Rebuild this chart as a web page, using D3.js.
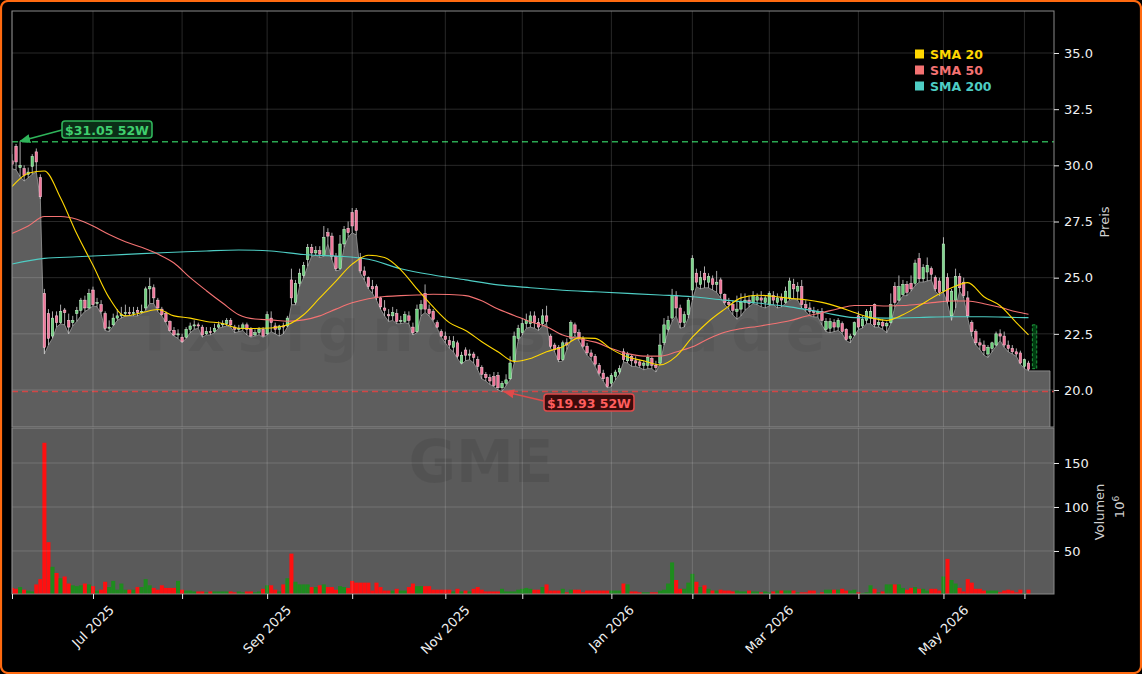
<!DOCTYPE html>
<html><head><meta charset="utf-8">
<script src="https://cdn.jsdelivr.net/npm/d3@7"></script>
<style>
html,body{margin:0;padding:0;background:#000;}
svg{display:block;font-family:"DejaVu Sans",sans-serif;}
</style></head><body>
<svg id="chart" width="1142" height="674"></svg>
<script>
// ---------------- DATA (GME, daily, trading-day index) ----------------
const openP = [
30.2,30.85,29.9,29.85,29.6,29.95,30.6,29.45,24.3,23.4,
22.4,23.3,23.0,23.56,23.1,23.0,23.4,23.55,24.0,23.65,
24.45,23.85,23.8,23.4,22.75,22.9,23.2,23.3,23.4,23.45,
23.4,23.55,23.45,23.65,24.5,24.55,24.0,23.6,23.4,23.05,
22.65,22.45,22.35,22.35,22.7,22.85,22.9,22.8,22.5,22.6,
22.6,22.8,22.9,22.95,23.1,22.8,22.7,22.75,22.9,22.7,
22.45,22.55,22.7,22.5,23.2,22.85,22.7,22.85,22.85,24.9,
23.9,24.75,25.1,25.8,26.35,26.1,26.2,26.0,27.0,26.85,
25.95,25.4,26.5,27.2,27.9,28.0,25.9,25.3,25.0,24.6,
24.6,24.1,23.65,23.35,23.3,23.4,23.05,23.05,23.3,22.8,
22.6,23.6,24.3,23.6,23.5,23.0,22.6,22.4,22.2,21.9,
22.1,21.2,21.78,21.55,21.6,21.35,21.0,20.7,20.55,20.6,
20.65,20.1,20.3,20.5,21.3,22.3,22.55,22.95,22.95,23.3,
23.0,22.95,23.3,22.4,22.0,21.9,21.35,22.1,22.3,22.9,
22.55,22.3,21.95,21.65,21.5,21.1,20.75,20.55,20.3,20.6,
20.8,21.7,21.3,21.5,21.3,21.25,21.1,21.1,21.4,21.1,
21.2,22.1,22.7,23.2,24.2,23.65,23.0,23.35,24.45,25.2,
24.7,25.2,24.8,24.95,24.7,24.9,24.25,23.9,23.8,23.5,
23.6,23.9,24.0,23.9,24.0,24.1,23.9,23.8,24.2,23.9,
24.1,23.9,24.1,24.7,24.4,24.6,23.8,23.65,23.5,23.4,
23.5,22.7,22.75,23.0,22.8,22.95,22.7,22.3,22.45,23.3,
22.85,23.1,23.2,23.8,22.9,23.0,22.85,23.0,24.6,24.0,
24.25,24.7,24.75,24.75,25.85,24.95,25.25,25.4,25.0,24.85,
24.4,25.0,23.3,24.0,25.05,24.8,24.1,23.0,22.6,22.1,
22.0,21.6,21.85,22.0,22.5,22.4,22.0,21.85,21.7,21.65,
21.05,21.2];
const highP = [
30.5,30.95,31.05,30.0,29.9,30.5,30.75,29.6,24.5,23.6,
23.5,23.5,23.8,23.65,23.4,23.3,23.7,24.1,24.2,24.5,
24.6,24.1,24.0,23.5,23.1,23.4,23.6,23.7,23.8,23.7,
23.7,23.7,23.8,24.6,25.0,24.7,24.1,23.7,23.5,23.1,
22.8,22.7,22.5,22.8,23.0,23.1,23.0,22.9,22.8,22.8,
22.95,23.05,23.1,23.2,23.2,22.9,22.9,23.0,23.0,22.8,
22.7,22.8,22.8,23.5,23.5,23.0,22.9,23.0,23.3,25.4,
24.9,25.4,25.7,26.5,26.5,26.4,26.4,27.3,27.2,27.0,
26.1,26.9,27.3,27.5,28.1,28.1,26.1,25.5,25.05,24.9,
24.7,24.15,24.0,23.6,23.7,23.6,23.3,23.5,23.5,23.0,
23.8,24.0,24.7,23.8,23.6,23.1,22.7,22.6,22.4,22.4,
22.2,21.7,21.9,21.8,21.7,21.5,21.1,20.8,20.7,20.8,
20.8,20.4,20.7,21.5,22.6,22.9,23.2,23.4,23.5,23.5,
23.2,23.6,23.75,22.5,22.1,22.0,22.2,22.3,23.1,23.0,
22.7,22.4,22.1,21.8,21.6,21.2,20.9,20.6,20.75,20.9,
21.1,21.85,21.7,21.6,21.5,21.35,21.3,21.6,21.5,21.3,
22.5,23.2,23.3,24.5,24.4,23.8,23.5,24.1,26.0,25.4,
25.3,25.5,25.2,25.1,25.3,25.0,24.3,24.1,24.0,24.2,
24.3,24.3,24.2,24.4,24.3,24.4,24.2,24.4,24.4,24.3,
24.3,24.6,25.0,24.95,24.8,24.9,24.0,23.9,23.7,23.6,
23.65,23.2,23.2,23.15,23.2,23.05,22.75,22.5,23.05,23.5,
23.3,23.6,23.7,23.85,23.2,23.15,23.05,24.3,24.8,25.1,
24.9,24.85,25.1,25.8,26.1,25.6,25.9,25.5,25.1,25.0,
26.8,25.2,24.5,25.4,25.2,25.0,24.4,23.1,22.7,22.3,
22.2,22.0,22.15,22.6,22.7,22.6,22.2,22.0,21.85,21.75,
21.4,21.3];
const lowP = [
29.85,29.8,29.5,29.3,29.45,29.6,29.7,28.5,21.6,22.0,
22.3,22.8,22.95,22.9,22.5,22.85,23.05,23.3,23.5,23.6,
23.75,23.7,23.4,22.65,22.6,22.85,23.1,23.2,23.3,23.3,
23.3,23.3,23.4,23.55,23.85,23.85,23.5,23.3,23.0,22.6,
22.4,22.3,22.1,22.3,22.55,22.7,22.75,22.35,22.45,22.45,
22.55,22.75,22.8,22.85,22.8,22.55,22.6,22.65,22.45,22.35,
22.4,22.45,22.35,22.45,22.6,22.5,22.4,22.5,22.8,23.8,
23.8,24.6,25.0,25.5,25.95,26.0,25.9,25.95,26.5,25.8,
25.3,25.35,26.35,26.8,27.0,26.9,25.2,24.9,24.5,24.3,
24.0,23.6,23.3,23.05,23.1,22.95,22.95,23.0,22.95,22.45,
22.55,23.3,23.45,23.3,23.05,22.75,22.35,22.1,21.85,21.7,
21.4,21.15,21.3,21.35,21.2,20.9,20.5,20.4,20.25,20.15,
20.0,19.93,20.2,20.45,21.2,22.2,22.45,22.75,22.8,22.75,
22.65,22.85,22.95,21.85,21.7,21.25,21.3,21.8,22.2,22.45,
22.2,21.85,21.55,21.35,21.05,20.65,20.4,20.1,20.15,20.45,
20.7,21.25,21.2,21.05,21.05,21.0,20.9,20.95,20.95,20.8,
21.15,22.0,22.6,23.05,23.3,22.75,22.8,23.2,24.0,24.6,
24.5,24.55,24.55,24.45,24.35,24.1,23.8,23.6,23.35,23.15,
23.3,23.55,23.7,23.85,23.8,23.7,23.65,23.75,23.8,23.65,
23.7,23.85,24.0,24.05,24.0,23.65,23.5,23.3,23.25,23.25,
22.9,22.6,22.55,22.6,22.65,22.5,22.2,22.1,22.4,22.7,
22.75,22.95,22.95,22.8,22.8,22.7,22.55,22.95,23.7,23.95,
24.2,24.2,24.4,24.65,24.8,24.8,24.85,24.9,24.4,24.2,
24.35,23.85,23.1,23.65,24.4,24.1,23.2,22.4,22.0,21.8,
21.55,21.45,21.7,21.95,22.2,21.9,21.7,21.6,21.5,21.15,
20.95,20.85];
const closeP = [
30.05,30.15,30.0,29.55,29.7,30.4,30.15,28.6,21.9,22.3,
23.2,23.0,23.5,23.44,22.8,23.1,23.55,24.0,23.65,24.3,
23.8,23.9,23.5,22.75,22.8,23.2,23.3,23.35,23.45,23.4,
23.45,23.45,23.5,24.5,24.6,24.1,23.65,23.35,23.05,22.65,
22.45,22.5,22.15,22.7,22.85,22.9,22.85,22.45,22.6,22.55,
22.75,22.9,22.95,23.1,22.9,22.7,22.75,22.9,22.7,22.4,
22.55,22.7,22.4,23.35,23.0,22.7,22.85,22.8,23.2,24.1,
24.75,25.2,25.55,26.35,26.1,26.2,26.05,26.8,26.85,25.95,
25.4,26.5,27.15,27.0,27.3,27.1,25.3,25.1,24.6,24.5,
24.1,23.7,23.55,23.3,23.45,23.05,23.1,23.35,23.1,22.55,
23.6,23.8,23.6,23.4,23.15,22.8,22.4,22.25,22.0,22.15,
21.5,21.55,21.55,21.6,21.45,21.05,20.7,20.55,20.4,20.2,
20.1,20.3,20.45,21.2,22.4,22.75,22.95,23.1,23.3,23.0,
22.8,23.3,23.05,21.95,21.8,21.35,22.1,22.0,23.0,22.55,
22.3,21.95,21.65,21.5,21.15,20.75,20.5,20.15,20.65,20.8,
20.95,21.35,21.6,21.3,21.2,21.1,21.2,21.45,21.1,21.0,
22.0,22.9,23.1,24.2,23.65,23.0,23.35,24.0,25.85,24.8,
25.0,24.9,25.05,24.7,24.8,24.3,23.9,23.8,23.55,23.6,
23.9,24.0,23.85,24.2,24.15,24.0,24.1,24.3,24.0,24.1,
24.0,24.4,24.85,24.5,24.6,23.8,23.65,23.5,23.45,23.5,
23.1,23.05,23.05,22.8,23.1,22.6,22.25,22.4,23.0,22.8,
23.15,23.5,23.5,22.9,23.0,22.85,22.95,23.8,23.9,24.6,
24.7,24.35,24.5,25.65,24.95,25.45,25.55,25.15,24.5,24.35,
26.5,23.95,24.4,25.05,24.55,24.2,23.3,22.6,22.1,22.0,
21.75,21.9,22.1,22.5,22.4,22.0,21.85,21.7,21.6,21.2,
21.35,20.92];
const volumeM = [
8,7,9,6,5,4,12,18,173,60,
32,25,19,21,13,11,10,11,13,12,
10,5,6,15,9,16,6,13,6,6,
6,9,9,18,11,8,6,11,8,8,
8,16,6,5,5,4,4,4,3,4,
4,4,4,4,4,3,4,3,4,4,
3,4,7,11,11,6,4,12,19,47,
15,12,12,12,9,9,11,12,9,9,
6,10,9,8,16,14,14,14,14,5,
14,9,5,5,5,7,5,5,9,13,
10,10,10,10,6,6,6,6,6,4,
7,4,5,4,7,9,6,4,4,4,
4,7,4,4,4,6,7,8,7,6,
6,9,12,5,5,5,7,3,6,6,
6,3,5,5,5,5,5,5,5,5,
5,13,12,4,4,3,3,3,3,3,
5,6,13,37,17,7,7,14,24,15,
9,11,7,5,5,6,5,5,4,5,
4,4,5,4,4,3,4,3,4,5,
5,5,5,5,3,3,3,5,5,2,
3,6,6,6,6,7,5,5,6,3,
2,3,11,7,3,4,12,12,12,12,
8,6,8,9,7,7,5,7,7,5,
21,41,17,13,8,4,18,14,7,7,
5,5,5,5,3,5,6,5,3,6,
2,6];
// moving averages, read every 4 (SMA 20/50) or 8 (SMA 200) trading days, last value at the final day
const sma20 = [29.05,29.65,29.75,28.55,26.95,25.55,24.1,23.3,23.44,23.58,
23.3,23.2,23.05,22.96,22.75,22.74,22.76,22.9,23.35,24.1,
24.85,25.6,26.0,25.9,25.35,24.5,23.7,23.0,22.65,22.15,
21.7,21.27,21.4,21.7,21.93,22.32,22.3,21.82,21.47,21.3,
21.12,21.5,22.35,23.05,23.6,24.1,24.22,24.17,24.08,24.02,
23.9,23.7,23.45,23.22,23.1,23.35,23.75,24.18,24.55,24.78,
24.15,23.75,23.0,22.45];
const sma50 = [26.97,27.3,27.72,27.72,27.6,27.3,26.92,26.6,26.35,26.05,
25.65,25.0,24.42,23.87,23.35,23.16,23.12,23.06,23.12,23.3,
23.6,23.88,24.06,24.16,24.2,24.23,24.26,24.25,24.2,23.97,
23.6,23.32,23.04,22.82,22.45,22.28,22.13,21.85,21.62,21.51,
21.51,21.69,21.92,22.28,22.57,22.73,22.83,22.95,23.08,23.28,
23.44,23.62,23.76,23.76,23.74,23.76,23.82,23.9,23.96,23.96,
23.84,23.68,23.48,23.37];
const sma200 = [25.61,25.86,25.93,26.0,26.07,26.13,26.19,26.23,
26.19,26.03,25.96,25.82,25.4,25.12,24.9,24.68,
24.55,24.44,24.37,24.3,24.23,24.15,24.0,23.87,
23.7,23.46,23.22,23.2,23.23,23.26,23.26,23.23,
23.22];
const monthTickIndex = [0,20,42,63,84,107,126,148,168,187,209,230,250];
const monthTickLabels = ["","Jul 2025","","Sep 2025","","Nov 2025","","Jan 2026","","Mar 2026","","May 2026",""];
const priceTicks = [20,22.5,25,27.5,30,32.5,35];
const volumeTicks = [50,100,150];
const high52 = [31.05];
const low52 = [19.93];
const nextDayRange = [20.95,22.9];
const legendNames = ["SMA 20","SMA 50","SMA 200"];
const legendColors = ["#ffd700","#f47272","#4ecdc4"];

// ---------------- LAYOUT ----------------
const svg = d3.select("#chart");
const xL=12, xR=1054, pTop=11, pBot=427, vTop=428, vBot=594;
const N = closeP.length;
const x = d3.scaleLinear().domain([0,257.3]).range([xL,xR]);
const yP = d3.scaleLinear().domain([18.353,36.87]).range([pBot,pTop]);
const yV = d3.scaleLinear().domain([1.1,189.8]).range([vBot,vTop]);

svg.append("rect").attr("width",1142).attr("height",674).attr("fill","#000");

const defs = svg.append("defs");
defs.append("clipPath").attr("id","cp").append("rect").attr("x",xL).attr("y",pTop).attr("width",xR-xL).attr("height",pBot-pTop);
defs.append("clipPath").attr("id","cv").append("rect").attr("x",xL).attr("y",vTop).attr("width",xR-xL).attr("height",vBot-vTop);
function marker(id,color){
  defs.append("marker").attr("id",id).attr("viewBox","0 0 10 10").attr("refX",9).attr("refY",5)
   .attr("markerWidth",7).attr("markerHeight",7).attr("orient","auto-start-reverse")
   .append("path").attr("d","M0,1 L10,5 L0,9 z").attr("fill",color);
}
marker("ag","#2fb45a"); marker("ar","#e04a4a");

// volume panel background
svg.append("rect").attr("x",xL).attr("y",vTop).attr("width",xR-xL).attr("height",vBot-vTop).attr("fill","#5a5a5a");

const gp = svg.append("g").attr("clip-path","url(#cp)");
const gv = svg.append("g").attr("clip-path","url(#cv)");

// area under lows
const areaPts = d3.range(N).map(i=>[i,lowP[i]]);
areaPts.push([x.invert(1050), lowP[N-1]]);
const area = d3.area().x(d=>x(d[0])).y0(pBot).y1(d=>yP(d[1]));
gp.append("path").datum(areaPts).attr("d",area).attr("fill","#5e5e5e");
gp.append("path").datum(areaPts).attr("d",d3.line().x(d=>x(d[0])).y(d=>yP(d[1])))
  .attr("fill","none").attr("stroke","#9a9a9a").attr("stroke-width",0.8);
gp.append("line").attr("x1",1050).attr("x2",1050).attr("y1",yP(lowP[N-1])).attr("y2",pBot).attr("stroke","#9a9a9a").attr("stroke-width",0.8);

// watermarks
gp.append("text").attr("x",135).attr("y",351)
  .attr("textLength",690).attr("lengthAdjust","spacing")
  .attr("font-size",58).attr("font-weight","bold").attr("fill","#000").attr("fill-opacity",0.06)
  .text("Txsignals Trade");
gv.append("text").attr("x",481).attr("y",482).attr("text-anchor","middle")
  .attr("font-size",58).attr("font-weight","bold").attr("fill","#000").attr("fill-opacity",0.08)
  .text("GME");

// grid
const gridC = "rgba(255,255,255,0.2)";
monthTickIndex.forEach(t=>{
  svg.append("line").attr("x1",x(t)).attr("x2",x(t)).attr("y1",pTop).attr("y2",pBot).attr("stroke",gridC).attr("stroke-width",0.8);
  svg.append("line").attr("x1",x(t)).attr("x2",x(t)).attr("y1",vTop).attr("y2",vBot).attr("stroke",gridC).attr("stroke-width",0.8);
});
priceTicks.forEach(t=>svg.append("line").attr("x1",xL).attr("x2",xR).attr("y1",yP(t)).attr("y2",yP(t)).attr("stroke",gridC).attr("stroke-width",0.8));
volumeTicks.forEach(t=>svg.append("line").attr("x1",xL).attr("x2",xR).attr("y1",yV(t)).attr("y2",yV(t)).attr("stroke",gridC).attr("stroke-width",0.8));

// 52w lines
gp.append("line").attr("x1",xL).attr("x2",xR).attr("y1",yP(high52[0])).attr("y2",yP(high52[0]))
  .attr("stroke","#2aa851").attr("stroke-width",1.6).attr("stroke-dasharray","6,4");
gp.append("line").attr("x1",xL).attr("x2",xR).attr("y1",yP(low52[0])).attr("y2",yP(low52[0]))
  .attr("stroke","#d24545").attr("stroke-width",1.6).attr("stroke-dasharray","6,4");

// candles
const up = i=>closeP[i]>=openP[i];
const cg = gp.append("g");
d3.range(N).forEach(i=>{
  cg.append("line").attr("x1",x(i)).attr("x2",x(i)).attr("y1",yP(highP[i])).attr("y2",yP(lowP[i]))
    .attr("stroke","#d6d6d6").attr("stroke-width",0.8);
  const top = yP(Math.max(openP[i],closeP[i])), bot = yP(Math.min(openP[i],closeP[i]));
  cg.append("rect").attr("x",x(i)-1.25).attr("width",2.5).attr("y",top).attr("height",Math.max(1,bot-top))
    .attr("fill",up(i)?"#6ccf7c":"#f0769a").attr("stroke",up(i)?"#d2f5d6":"#ffd2de").attr("stroke-width",0.5);
});
// next-day projected range
gp.append("rect").attr("x",x(N+0.5)-2.2).attr("width",4.4).attr("y",yP(nextDayRange[1]))
  .attr("height",yP(nextDayRange[0])-yP(nextDayRange[1])).attr("fill","rgba(0,110,30,0.55)")
  .attr("stroke","#1f9a3f").attr("stroke-width",1).attr("stroke-dasharray","3,2");

// SMA lines
const idx4 = d3.range(0,N-3,4).concat([N-1]);
const idx8 = d3.range(0,N-3,8).concat([N-1]);
const smaLine = d3.line().x(d=>x(d[0])).y(d=>yP(d[1])).curve(d3.curveMonotoneX);
gp.append("path").datum(idx8.map((t,k)=>[t,sma200[k]])).attr("d",smaLine).attr("fill","none").attr("stroke",legendColors[2]).attr("stroke-width",1.1);
gp.append("path").datum(idx4.map((t,k)=>[t,sma50[k]])).attr("d",smaLine).attr("fill","none").attr("stroke",legendColors[1]).attr("stroke-width",1.1);
gp.append("path").datum(idx4.map((t,k)=>[t,sma20[k]])).attr("d",smaLine).attr("fill","none").attr("stroke",legendColors[0]).attr("stroke-width",1.1);

// volume bars
const bw = x(1)-x(0);
gv.selectAll("rect.v").data(d3.range(N)).join("rect").attr("class","v")
  .attr("x",i=>x(i)-bw/2).attr("width",bw).attr("y",i=>yV(volumeM[i])).attr("height",i=>vBot-yV(volumeM[i]))
  .attr("fill",i=>up(i)?"#1e8c1e":"#ff1010");

// spines
svg.append("rect").attr("x",xL).attr("y",pTop).attr("width",xR-xL).attr("height",pBot-pTop).attr("fill","none").attr("stroke","#8a8a8a").attr("stroke-width",1);
svg.append("rect").attr("x",xL).attr("y",vTop).attr("width",xR-xL).attr("height",vBot-vTop).attr("fill","none").attr("stroke","#8a8a8a").attr("stroke-width",1);

// axes
function styleAxis(g){
  g.select(".domain").remove();
  g.selectAll("line").attr("stroke","#e8e8e8");
  g.selectAll("text").attr("fill","#f0f0f0").attr("font-size",13).attr("font-family","DejaVu Sans");
}
svg.append("g").attr("transform",`translate(${xR},0)`)
  .call(d3.axisRight(yP).tickValues(priceTicks).tickFormat(d3.format(".1f")).tickSize(5).tickPadding(5)).call(styleAxis);
svg.append("g").attr("transform",`translate(${xR},0)`)
  .call(d3.axisRight(yV).tickValues(volumeTicks).tickFormat(d3.format("d")).tickSize(5).tickPadding(5)).call(styleAxis);
svg.append("g").attr("transform",`translate(0,${vBot})`)
  .call(d3.axisBottom(x).tickValues(monthTickIndex).tickFormat("").tickSize(5)).call(styleAxis);
monthTickIndex.forEach((t,k)=>{
  if(!monthTickLabels[k]) return;
  const tx = svg.append("text").attr("text-anchor","middle").attr("dominant-baseline","central")
    .attr("font-size",13).attr("fill","#f0f0f0").text(monthTickLabels[k]);
  const len = tx.node().getComputedTextLength();
  const cy = 603 + (len+13)*0.7071/2;
  tx.attr("transform",`translate(${x(t)},${cy}) rotate(-45)`);
});

// axis titles
svg.append("text").attr("transform","translate(1109,222) rotate(-90)").attr("text-anchor","middle")
  .attr("font-size",13).attr("fill","#d0d0d0").text("Preis");
svg.append("text").attr("transform","translate(1104,512) rotate(-90)").attr("text-anchor","middle")
  .attr("font-size",13).attr("fill","#d0d0d0").text("Volumen");
const t6 = svg.append("text").attr("transform","translate(1124,507) rotate(-90)").attr("text-anchor","middle")
  .attr("font-size",13).attr("fill","#d0d0d0");
t6.append("tspan").text("10");
t6.append("tspan").attr("font-size",9).attr("dy",-5).text("6");

// legend
legendNames.forEach((n,k)=>{
  const yy = 54 + k*16;
  svg.append("rect").attr("x",915).attr("y",yy-4.5).attr("width",9).attr("height",9).attr("fill",legendColors[k]);
  svg.append("text").attr("x",930).attr("y",yy).attr("dominant-baseline","central").attr("font-size",12.5)
    .attr("font-weight","bold").attr("fill",legendColors[k]).text(n);
});

// 52W annotations
function annot(bx,by,txt,fill,stroke,tcol,ax,ay,sx,sy,mid){
  svg.append("line").attr("x1",sx).attr("y1",sy).attr("x2",ax).attr("y2",ay).attr("stroke",stroke).attr("stroke-width",1.6).attr("marker-end",`url(#${mid})`);
  svg.append("rect").attr("x",bx).attr("y",by).attr("width",90).attr("height",17).attr("rx",3)
    .attr("fill",fill).attr("stroke",stroke).attr("stroke-width",1.6);
  svg.append("text").attr("x",bx+45).attr("y",by+9).attr("text-anchor","middle").attr("dominant-baseline","central")
    .attr("font-size",12.5).attr("font-weight","bold").attr("fill",tcol).text(txt);
}
annot(62,121,"$"+high52[0].toFixed(2)+" 52W","#0b2e17","#2fb45a","#3fcf6e",x(2),yP(high52[0])-0.5,62,130,"ag");
annot(544,394,"$"+low52[0].toFixed(2)+" 52W","#3b0c0c","#e04a4a","#ff5e5e",x(121.5),yP(low52[0]),544,401,"ar");

// outer border
svg.append("rect").attr("x",1).attr("y",1).attr("width",1140).attr("height",672).attr("rx",7)
  .attr("fill","none").attr("stroke","#ff6a10").attr("stroke-width",2.2);
</script>
</body></html>
